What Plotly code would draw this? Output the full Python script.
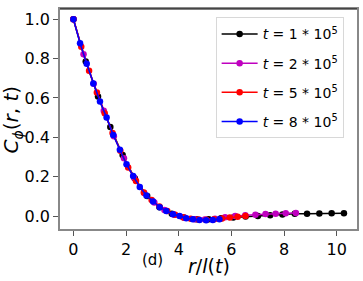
import plotly.graph_objects as go

# r/l(t) values for each series
r_t1 = [0, 0.467, 0.934, 1.401, 1.868, 2.335, 2.802, 3.269, 3.736, 4.203, 4.67, 5.137,
        5.604, 6.071, 6.538, 7.005, 7.472, 7.939, 8.406, 8.873, 9.34, 9.807, 10.274]
c_t1 = [1.0, 0.785, 0.607, 0.452, 0.31, 0.19, 0.102, 0.045, 0.011, -0.007, -0.016, -0.017,
        -0.012, -0.007, -0.003, 0.0, 0.004, 0.008, 0.011, 0.012, 0.013, 0.014, 0.014]

r_t2 = [0, 0.384, 0.768, 1.152, 1.536, 1.92, 2.304, 2.688, 3.072, 3.456, 3.84, 4.224,
        4.608, 4.992, 5.376, 5.76, 6.144, 6.528, 6.912, 7.296, 7.68, 8.064, 8.448]
c_t2 = [1.0, 0.822, 0.672, 0.535, 0.405, 0.293, 0.195, 0.117, 0.069, 0.031, 0.006, -0.009,
        -0.017, -0.018, -0.014, -0.006, 0.0, 0.004, 0.007, 0.01, 0.012, 0.014, 0.015]

r_t5 = [0, 0.297, 0.594, 0.891, 1.188, 1.485, 1.782, 2.079, 2.376, 2.673, 2.97, 3.267,
        3.564, 3.861, 4.158, 4.455, 4.752, 5.049, 5.346, 5.643, 5.94, 6.237, 6.534]
c_t5 = [1.0, 0.86, 0.738, 0.628, 0.522, 0.422, 0.332, 0.246, 0.178, 0.12, 0.081, 0.048,
        0.025, 0.006, -0.006, -0.014, -0.018, -0.019, -0.017, -0.013, -0.008, -0.004, 0.0]

r_t8 = [0, 0.252, 0.504, 0.756, 1.008, 1.26, 1.512, 1.764, 2.016, 2.268, 2.52, 2.772,
        3.024, 3.276, 3.528, 3.78, 4.032, 4.284, 4.536, 4.788, 5.04, 5.292, 5.544]
c_t8 = [1.0, 0.878, 0.774, 0.673, 0.582, 0.5, 0.412, 0.337, 0.263, 0.203, 0.148, 0.104,
        0.074, 0.045, 0.026, 0.009, 0.0, -0.011, -0.017, -0.02, -0.021, -0.02, -0.017]

labels = ["<i>t</i> = 1 * 10<sup>5</sup>", "<i>t</i> = 2 * 10<sup>5</sup>",
          "<i>t</i> = 5 * 10<sup>5</sup>", "<i>t</i> = 8 * 10<sup>5</sup>"]
colors = ["black", "#bf00bf", "red", "blue"]

x_ticks = [0, 2, 4, 6, 8, 10]
y_ticks = [0.0, 0.2, 0.4, 0.6, 0.8, 1.0]

FONT = "DejaVu Sans"

fig = go.Figure()
for i, (rr, cc, lab, col) in enumerate(zip([r_t1, r_t2, r_t5, r_t8], [c_t1, c_t2, c_t5, c_t8],
                                           labels, colors)):
    fig.add_trace(go.Scatter(x=rr, y=cc, mode="lines+markers", name=lab,
                             legendgroup=f"g{i}",
                             line=dict(color=col, width=1.5),
                             marker=dict(color=col, size=6.5)))

fig.update_layout(
    width=363, height=281,
    margin=dict(l=60, r=6, t=9, b=52),
    paper_bgcolor="white", plot_bgcolor="white",
    font=dict(family=FONT, color="black", size=16),
    showlegend=True,
    legend=dict(x=0.524, y=0.962, xanchor="left", yanchor="top",
                bgcolor="white", bordercolor="#d8d8d8", borderwidth=1,
                font=dict(family=FONT, size=14), itemwidth=36,
                tracegroupgap=8),
    xaxis=dict(range=[-0.51, 10.77], tickvals=x_ticks, ticks="outside", ticklen=5,
               tickcolor="#555", showgrid=False, zeroline=False, automargin=False,
               showline=True, linecolor="#888", linewidth=1.5, mirror=True,
               tickfont=dict(size=16)),
    yaxis=dict(range=[-0.066, 1.052], tickvals=y_ticks, tickformat=".1f", ticks="outside",
               ticklen=5, tickcolor="#555", showgrid=False, zeroline=False, automargin=False,
               showline=True, linecolor="#888", linewidth=1.5, mirror=True,
               tickfont=dict(size=16)),
    annotations=[
        dict(text="<i>C</i><sub><i>ϕ</i></sub>(<i>r</i>, <i>t</i>)", xref="paper", yref="paper",
             x=-0.16, y=0.5, textangle=-90, showarrow=False,
             font=dict(size=20, family=FONT), xanchor="center", yanchor="middle"),
        dict(text="<i>r</i>/<i>l</i>(<i>t</i>)", xref="paper", yref="paper",
             x=0.5, y=-0.17, showarrow=False, font=dict(size=19, family=FONT),
             xanchor="center", yanchor="middle"),
        dict(text="(d)", xref="paper", yref="paper", x=0.31, y=-0.141, showarrow=False,
             font=dict(size=15, family=FONT), xanchor="center", yanchor="middle"),
    ],
    shapes=[dict(type="line", xref="paper", yref="paper", x0=0, x1=1, y0=1, y1=1,
                 line=dict(color="black", width=1))],
)

fig.write_html("out.html", config={"displayModeBar": False},
               post_script="document.body.style.margin='0';document.body.style.padding='0';")
